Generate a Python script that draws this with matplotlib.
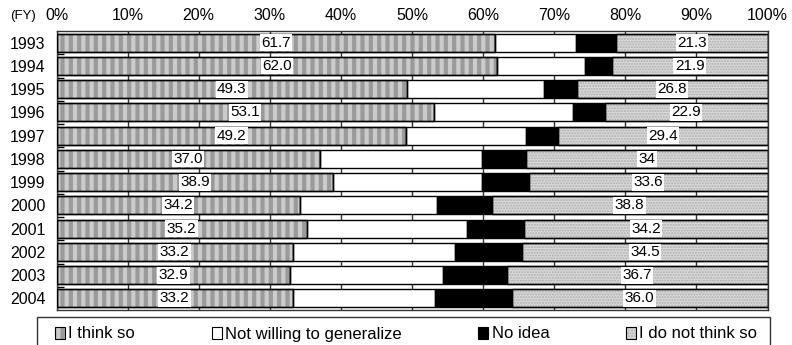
import numpy as np
import matplotlib.pyplot as plt
from matplotlib.colors import to_rgba
from matplotlib.patches import Patch, Rectangle

years = ["1993", "1994", "1995", "1996", "1997", "1998",
         "1999", "2000", "2001", "2002", "2003", "2004"]
think_so = [61.7, 62.0, 49.3, 53.1, 49.2, 37.0, 38.9, 34.2, 35.2, 33.2, 32.9, 33.2]
not_willing = [11.3, 12.4, 19.3, 19.6, 16.8, 22.9, 21.0, 19.3, 22.5, 22.8, 21.4, 20.1]
no_idea = [5.7, 3.7, 4.6, 4.4, 4.6, 6.1, 6.5, 7.7, 8.1, 9.5, 9.0, 10.7]
not_think = [21.3, 21.9, 26.8, 22.9, 29.4, 34.0, 33.6, 38.8, 34.2, 34.5, 36.7, 36.0]
not_think_labels = ["21.3", "21.9", "26.8", "22.9", "29.4", "34", "33.6",
                    "38.8", "34.2", "34.5", "36.7", "36.0"]
series_names = ["I think so", "Not willing to generalize", "No idea", "I do not think so"]

plt.rcParams['font.family'] = ['Liberation Sans', 'DejaVu Sans']
plt.rcParams['hatch.linewidth'] = 3.0

W, H = 792, 345
fig = plt.figure(figsize=(7.92, 3.45), dpi=100)
ax = fig.add_axes([56.5 / W, 1 - 310 / H, 711 / W, 279 / H])

y = np.arange(len(years))
h = 0.78
styles = [
    dict(facecolor="#cbcbcb", hatch="||", hatch_color="#9a9a9a", hlw=3.0),
    dict(facecolor="white", hatch=None, hatch_color=None, hlw=None),
    dict(facecolor="black", hatch=None, hatch_color=None, hlw=None),
    dict(facecolor="#dadada", hatch="......", hatch_color="#adadad", hlw=1.0),
]
data = [think_so, not_willing, no_idea, not_think]


def apply_hatch(p, st):
    p.set_hatch(st["hatch"])
    p._hatch_color = to_rgba(st["hatch_color"])
    if hasattr(p, "set_hatch_linewidth"):
        p.set_hatch_linewidth(st["hlw"])


ax.set_axisbelow(True)
ax.grid(axis="x", color="#333333", linewidth=1)

left = np.zeros(len(years))
bars = []
for vals, st in zip(data, styles):
    vals = np.array(vals)
    b = ax.barh(y, vals, left=left, height=h, facecolor=st["facecolor"],
                edgecolor="black", linewidth=1, zorder=2)
    if st["hatch"]:
        for p in b:
            apply_hatch(p, st)
        # redraw edges on top in black
        ax.barh(y, vals, left=left, height=h, facecolor="none",
                edgecolor="black", linewidth=1, zorder=3)
    bars.append((left.copy(), vals))
    left = left + vals

bbox = dict(facecolor="white", edgecolor="none", pad=1.0)
for i in range(len(years)):
    l0, v0 = bars[0]
    ax.text(l0[i] + v0[i] / 2, y[i], f"{think_so[i]:.1f}", ha="center",
            va="center", fontsize=11, bbox=bbox, zorder=5)
    l3, v3 = bars[3]
    ax.text(l3[i] + v3[i] / 2, y[i], not_think_labels[i], ha="center",
            va="center", fontsize=11, bbox=bbox, zorder=5)

ax.set_xlim(0, 100)
ax.set_ylim(len(years) - 0.5, -0.5)
ax.xaxis.tick_top()
ax.set_xticks(np.arange(0, 101, 10))
ax.set_xticklabels([f"{v}%" for v in range(0, 101, 10)], fontsize=11.5)
ax.tick_params(axis="x", length=0, pad=6)
ax.set_yticks(y)
ax.set_yticklabels(years, fontsize=11.5)
ax.tick_params(axis="y", which="major", length=0, pad=8)
ax.set_yticks(np.arange(-0.5, len(years) - 0.5, 1)[1:], minor=True)
ax.tick_params(axis="y", which="minor", direction="in", length=5, width=1)
for s in ax.spines.values():
    s.set_color("#333333")
    s.set_linewidth(1)

fig.text(10 / W, 1 - 16 / H, "(FY)", fontsize=9.5, va="center", ha="left")

# legend box
fig.add_artist(Rectangle((37 / W, 1 - 352 / H), 733 / W, 35 / H,
                         transform=fig.transFigure, facecolor="white",
                         edgecolor="#333333", linewidth=1))
handles = []
for name, st in zip(series_names, styles):
    handles.append(Patch(facecolor=st["facecolor"], edgecolor="black",
                         linewidth=0.8, label=name))
leg = fig.legend(handles=handles, loc="center left", ncol=4,
                 bbox_to_anchor=(55 / W, 1 - 334 / H),
                 fontsize=12, frameon=False, handlelength=0.6,
                 handleheight=0.7, handletextpad=0.2, columnspacing=4.6,
                 borderpad=0, borderaxespad=0)
for hp, st in zip(leg.get_patches(), styles):
    if st["hatch"]:
        apply_hatch(hp, st)

fig.savefig("out.png", dpi=100)
